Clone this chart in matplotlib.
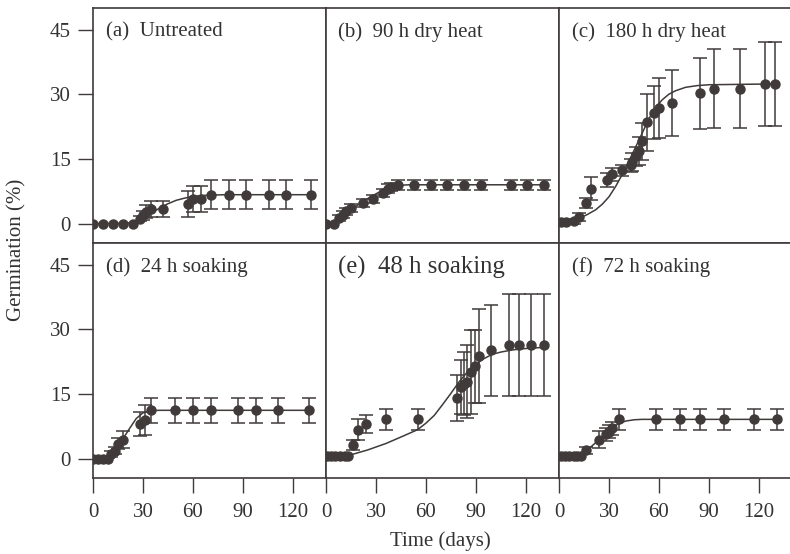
import numpy as np
import matplotlib.pyplot as plt

# ---- data (days, germination %, error, fitted curve) ----
a_days = [0, 6, 12, 18, 24, 28, 30, 32, 35, 42, 57, 60, 65, 71, 82, 92, 106, 116, 131]
a_germ = [0, 0, 0, 0, 0, 1.1, 1.9, 2.7, 3.4, 3.4, 4.6, 5.7, 5.7, 6.7, 6.7, 6.7, 6.7, 6.7, 6.7]
a_err = [0, 0, 0, 0, 0, 0.6, 1.0, 1.5, 1.8, 1.8, 3.0, 3.0, 3.0, 3.3, 3.3, 3.3, 3.3, 3.3, 3.3]
a_fit_days = [0, 20, 25, 30, 35, 40, 45, 50, 55, 60, 65, 70, 80, 131]
a_fit = [0, 0.1, 0.4, 1.2, 2.4, 3.6, 4.6, 5.4, 5.9, 6.3, 6.5, 6.6, 6.7, 6.7]

b_days = [0, 5, 8, 10, 12, 15, 22, 28, 34, 37, 39, 43, 53, 63, 73, 83, 93, 111, 121, 131]
b_germ = [0, 0, 1.3, 2.1, 2.9, 3.6, 4.8, 5.7, 7.1, 8.1, 8.5, 9.0, 9.0, 9.0, 9.0, 9.0, 9.0, 9.0, 9.0, 9.0]
b_err = [0, 0, 0.8, 0.8, 0.8, 0.9, 1.0, 1.0, 1.0, 1.0, 1.0, 1.1, 1.1, 1.1, 1.1, 1.1, 1.1, 1.1, 1.1, 1.1]
b_fit_days = [0, 3, 6, 10, 15, 20, 25, 30, 35, 40, 45, 50, 131]
b_fit = [0, 0.1, 0.6, 1.7, 3.1, 4.6, 5.8, 6.9, 7.9, 8.6, 8.9, 9.0, 9.0]

c_days = [1, 4, 9, 12, 16, 19, 29, 32, 38, 43, 44, 46, 48, 50, 53, 57, 60, 68, 85, 93, 109, 124, 130]
c_germ = [0.3, 0.3, 0.5, 1.6, 4.8, 8.1, 10.2, 11.4, 12.4, 13.5, 14.3, 15.6, 16.8, 19.1, 23.5,
          25.7, 26.8, 28.0, 30.2, 31.3, 31.3, 32.4, 32.4]
c_err = [0, 0, 0.5, 0.9, 1.1, 2.6, 1.6, 1.5, 1.3, 1.5, 2.0, 2.2, 3.2, 4.3, 6.6,
         6.1, 6.9, 7.7, 8.3, 9.1, 9.1, 9.8, 9.8]
c_fit_days = [0, 6, 12, 17, 22, 26, 30, 34, 38, 42, 46, 50, 54, 58, 62, 66, 70, 76, 83, 90, 131]
c_fit = [0.2, 0.5, 1.2, 2.1, 3.2, 4.5, 6.2, 8.6, 11.4, 14.5, 17.7, 21.0, 24.3, 26.9, 28.7, 30.0,
         30.8, 31.6, 32.0, 32.2, 32.4]

d_days = [0, 3, 6, 9, 11, 13, 15, 18, 28, 31, 35, 49, 60, 71, 87, 98, 111, 130]
d_germ = [0, 0, 0, 0, 1.0, 1.8, 3.5, 4.4, 8.0, 8.9, 11.2, 11.2, 11.2, 11.2, 11.2, 11.2, 11.2, 11.2]
d_err = [0, 0, 0, 0, 0.7, 0.8, 1.3, 1.9, 2.8, 3.5, 2.9, 2.9, 2.9, 2.9, 2.9, 2.9, 2.9, 2.9]
d_fit_days = [0, 8, 10, 13, 15, 18, 22, 26, 30, 34, 40, 130]
d_fit = [0, 0.1, 0.5, 1.5, 2.8, 4.6, 7.0, 9.3, 10.6, 11.1, 11.2, 11.2]

e_days = [0.4, 3, 5.4, 8.4, 11.4, 13, 16.4, 19, 24, 36, 55, 79, 81, 83, 85, 87.4, 89.4, 92, 99,
          110, 116, 123, 131]
e_germ = [0.5, 0.5, 0.5, 0.5, 0.5, 0.5, 3.1, 6.7, 8.0, 9.1, 9.1, 14.1, 16.6, 17.4, 17.8, 20.1,
          21.4, 23.8, 25.1, 26.3, 26.3, 26.3, 26.3]
e_err = [0, 0, 0, 0, 0, 0, 1.2, 2.4, 2.1, 2.4, 2.4, 5.3, 6.2, 7.3, 8.5, 9.7, 8.5, 10.9, 10.6,
         11.8, 11.8, 11.8, 11.8]
e_fit_days = [0, 12, 16, 25, 36, 45, 55, 60, 65, 70, 75, 80, 85, 90, 95, 100, 105, 112, 119, 131]
e_fit = [0.5, 0.7, 1.0, 2.0, 3.5, 5.0, 6.7, 8.2, 10.0, 12.5, 15.1, 17.8, 20.1, 21.9, 23.2, 24.2,
         24.7, 25.2, 25.5, 25.8]

f_days = [1, 3.6, 6, 9, 11, 13, 16, 24, 28, 30, 32, 36, 58, 73, 85, 99, 117, 131]
f_germ = [0.5, 0.5, 0.5, 0.5, 0.5, 0.5, 1.9, 4.4, 5.6, 6.2, 7.0, 9.1, 9.1, 9.1, 9.1, 9.1, 9.1, 9.1]
f_err = [0, 0, 0, 0, 0, 0, 0.9, 2.0, 1.5, 1.5, 1.5, 2.4, 2.4, 2.4, 2.4, 2.4, 2.4, 2.4]
f_fit_days = [0, 12, 16, 20, 25, 30, 35, 40, 45, 50, 131]
f_fit = [0.5, 0.6, 1.6, 3.0, 4.7, 6.4, 7.9, 8.7, 9.0, 9.1, 9.1]

titles = ['(a)  Untreated', '(b)  90 h dry heat', '(c)  180 h dry heat',
          '(d)  24 h soaking', '(e)  48 h soaking', '(f)  72 h soaking']
x_ticks = [0, 30, 60, 90, 120]
y_ticks = [0, 15, 30, 45]

panels = [
    (a_days, a_germ, a_err, a_fit_days, a_fit),
    (b_days, b_germ, b_err, b_fit_days, b_fit),
    (c_days, c_germ, c_err, c_fit_days, c_fit),
    (d_days, d_germ, d_err, d_fit_days, d_fit),
    (e_days, e_germ, e_err, e_fit_days, e_fit),
    (f_days, f_germ, f_err, f_fit_days, f_fit),
]

plt.rcParams['font.family'] = ['Liberation Serif', 'DejaVu Serif']
ink = '#403a3a'
txt = '#333333'

fig = plt.figure(figsize=(7.9, 5.54), dpi=100)
W, H = 790.0, 554.0
left, pw = 93.0, 233.0
tops = [8.0, 243.0]
ph = 235.0

for i, (days, germ, err, fdays, fit) in enumerate(panels):
    row, col = divmod(i, 3)
    x0 = left + col * pw
    y0 = tops[row]
    ax = fig.add_axes([x0 / W, 1 - (y0 + ph) / H, pw / W, ph / H])

    days = np.array(days)
    germ = np.array(germ)
    err = np.array(err)

    ax.plot(fdays, fit, color=ink, lw=1.1, zorder=2)
    m = err > 0
    ax.errorbar(days[m], germ[m], yerr=err[m], fmt='none', ecolor=ink,
                elinewidth=1.1, capsize=5, capthick=1.1, zorder=3)
    ax.plot(days, germ, 'o', color=ink, markersize=6.5, zorder=4)

    ax.set_xlim(0, 140)
    ax.set_ylim(-4.5, 50)

    for sp in ax.spines.values():
        sp.set_color(ink)
        sp.set_linewidth(1.2)

    if row == 1:
        ax.set_xticks(x_ticks)
        ax.tick_params(axis='x', direction='out', length=11, width=1.0, color=ink,
                       labelsize=15, labelcolor=txt, pad=7)
    else:
        ax.set_xticks([])
    if col == 0:
        ax.set_yticks(y_ticks)
        ax.tick_params(axis='y', direction='out', length=11, width=1.0, color=ink,
                       labelsize=15, labelcolor=txt, pad=5)
    else:
        ax.set_yticks([])

    fs = 17.8 if i == 4 else 15
    ax.annotate(titles[i], xy=(0, 1), xycoords='axes fraction',
                xytext=(9, -9 if i == 4 else -10), textcoords='offset points',
                ha='left', va='top', fontsize=fs, color=txt)

fig.text(17 / W, 1 - 250 / H, 'Germination (%)', rotation=90, ha='center', va='center',
         fontsize=15, color=txt)
fig.text(440 / W, 1 - 541 / H, 'Time (days)', ha='center', va='center',
         fontsize=15, color=txt)

fig.savefig('out.png', dpi=100)
